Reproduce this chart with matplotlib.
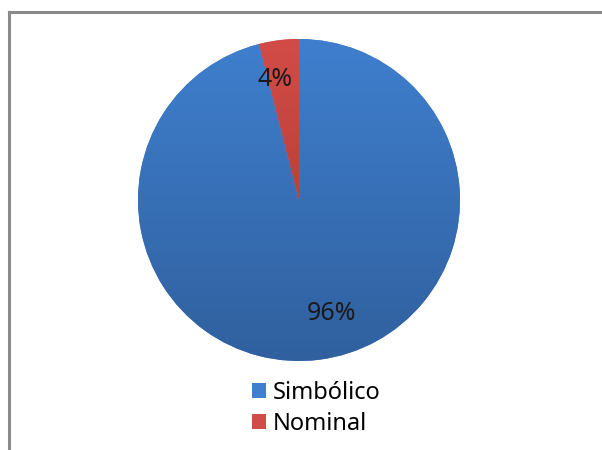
import numpy as np
import matplotlib
matplotlib.use('Agg')
import matplotlib.pyplot as plt
from matplotlib.colors import LinearSegmentedColormap
from matplotlib.patches import Patch
from matplotlib.lines import Line2D

# data
labels = ['Simbólico', 'Nominal']
values = [96, 4]
top_colors = ['#3F7FCE', '#D24C47']
bottom_colors = ['#30609E', '#A6342F']

plt.rcParams['font.family'] = ['Noto Sans', 'DejaVu Sans']

fig = plt.figure(figsize=(6.02, 4.5), dpi=100)
ax = fig.add_axes([0, 0, 1, 1])

cx, cy, r = 299, 250, 161
wedges, texts, autotexts = ax.pie(
    values, startangle=90, counterclock=False, center=(cx, cy), radius=r,
    autopct='%d%%', pctdistance=0.75, frame=True,
    textprops={'fontsize': 18, 'color': '#1a1a1a'},
    wedgeprops={'linewidth': 0})
ax.set_xlim(0, 602)
ax.set_ylim(0, 450)
ax.set_aspect('equal')
ax.axis('off')

# vertical gradient fill for each wedge
grad = np.linspace(0, 1, 256).reshape(-1, 1)
for w, c0, c1 in zip(wedges, top_colors, bottom_colors):
    w.set_facecolor(c0)
    cmap = LinearSegmentedColormap.from_list('g', [c1, c0])
    im = ax.imshow(grad, cmap=cmap, origin='lower', aspect='auto',
                   extent=(cx - r, cx + r, cy - r, cy + r), zorder=2)
    im.set_clip_path(w)

# move labels a bit like Excel does
autotexts[0].set_position((cx + 33, cy - 113))
autotexts[1].set_position((cx - 24, cy + 120))
for t in autotexts:
    t.set_zorder(5)

handles = [Patch(facecolor=c, edgecolor='none') for c in top_colors]
ax.legend(handles, labels, loc='center', bbox_to_anchor=(0.525, 0.092),
          frameon=False, fontsize=17, handlelength=0.6, handleheight=0.6,
          handletextpad=0.3, labelspacing=0.3)

# chart border (top and left visible)
fig.add_artist(Line2D([8.5 / 602, 1], [1 - 12 / 450, 1 - 12 / 450],
                      color='#8a8a8a', lw=2.2))
fig.add_artist(Line2D([8.5 / 602, 8.5 / 602], [0, 1 - 12 / 450],
                      color='#8a8a8a', lw=2.2))

fig.savefig('out.png', dpi=100)
